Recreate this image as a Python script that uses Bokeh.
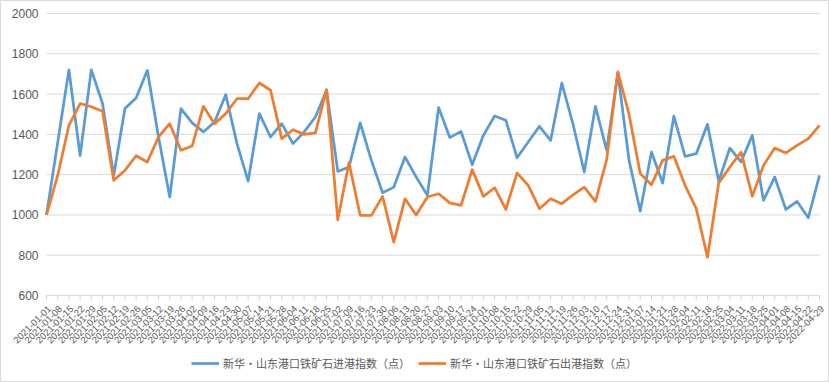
import math
import pandas as pd
from bokeh.plotting import figure
from bokeh.models import Legend, LegendItem, ColumnDataSource
from bokeh.core.properties import value
from bokeh.embed import file_html
from bokeh.resources import INLINE

dates = [d.strftime("%Y-%m-%d") for d in pd.date_range("2021-01-01", periods=70, freq="7D")]

inbound = [1000, 1360, 1720, 1295, 1720, 1553, 1196, 1528, 1581, 1718,
           1387, 1089, 1528, 1457, 1412, 1461, 1597, 1354, 1168, 1503,
           1387, 1453, 1354, 1412, 1486, 1619, 1216, 1238, 1457, 1271,
           1110, 1138, 1288, 1188, 1097, 1533, 1384, 1415, 1249, 1395,
           1491, 1470, 1284, 1362, 1440, 1370, 1655, 1450, 1213, 1539,
           1321, 1705, 1271, 1019, 1312, 1158, 1490, 1291, 1304, 1450,
           1167, 1332, 1263, 1395, 1072, 1188, 1027, 1067, 986, 1196]

outbound = [1000, 1196, 1445, 1553, 1537, 1515, 1172, 1221, 1294, 1263,
            1387, 1453, 1321, 1342, 1539, 1453, 1503, 1577, 1577, 1655,
            1619, 1379, 1423, 1400, 1407, 1622, 976, 1259, 998, 998,
            1092, 865, 1080, 1000, 1089, 1105, 1060, 1047, 1225, 1092,
            1135, 1027, 1208, 1147, 1031, 1080, 1056, 1100, 1138, 1067,
            1274, 1710, 1500, 1205, 1150, 1271, 1291, 1147, 1031, 790,
            1158, 1238, 1312, 1092, 1246, 1332, 1308, 1345, 1379, 1445]

y_ticks = [600, 800, 1000, 1200, 1400, 1600, 1800, 2000]
y_tick_labels = [str(v) for v in y_ticks]
series_names = ["新华·山东港口铁矿石进港指数（点）", "新华·山东港口铁矿石出港指数（点）"]

# layout (pixels) -- the whole figure is the plotting frame
W, H = 829, 382
PLOT_L, PLOT_R, PLOT_T, PLOT_B = 46, 819, 13, 295
n = len(dates)
y_min, y_max = y_ticks[0], y_ticks[-1]
upp_y = (y_max - y_min) / (PLOT_B - PLOT_T)
upp_x = (n - 1) / (PLOT_R - PLOT_L)
x_range = (0 - PLOT_L * upp_x, (n - 1) + (W - PLOT_R) * upp_x)
y_range = (y_min - (H - PLOT_B) * upp_y, y_max + PLOT_T * upp_y)

idx = list(range(n))
src = ColumnDataSource(dict(x=idx, inbound=inbound, outbound=outbound,
                            base=[y_min] * n, label=dates))
ysrc = ColumnDataSource(dict(y=y_ticks, label=y_tick_labels,
                             x0=[0] * len(y_ticks), x1=[n - 1] * len(y_ticks)))

p = figure(width=W, height=H, x_range=x_range, y_range=y_range,
           output_backend="svg", toolbar_location=None,
           x_axis_location=None, y_axis_location=None,
           min_border=0, min_border_left=0, min_border_right=0,
           min_border_top=0, min_border_bottom=0)
p.grid.visible = False
p.outline_line_color = "#d9d9d9"
p.outline_line_width = 1
p.background_fill_color = "white"
p.border_fill_color = "white"

# value gridlines and labels
p.segment(x0="x0", y0="y", x1="x1", y1="y", source=ysrc, line_color="#d9d9d9", line_width=1)
p.text(x="x0", y="y", text="label", source=ysrc, x_offset=-8,
       text_align="right", text_baseline="middle",
       text_font=value("Liberation Sans"), text_font_size="12px", text_color="#595959")

# category axis: ticks and rotated labels
p.ray(x="x", y="base", length=5, length_units="screen", angle=-math.pi / 2,
      source=src, line_color="#d9d9d9", line_width=1)
p.text(x="x", y="base", text="label", source=src, angle=math.pi / 4,
       text_align="right", text_baseline="middle", x_offset=3, y_offset=12,
       text_font=value("Liberation Sans"), text_font_size="9.5px", text_color="#595959")

r1 = p.line("x", "inbound", source=src, line_color="#5B9BD5", line_width=2.75, line_join="round")
r2 = p.line("x", "outbound", source=src, line_color="#ED7D31", line_width=2.75, line_join="round")

legend = Legend(items=[LegendItem(label=series_names[0], renderers=[r1]),
                       LegendItem(label=series_names[1], renderers=[r2])],
                orientation="horizontal", location=(191, 9))
legend.label_text_font = "Noto Sans CJK SC"
legend.label_text_font_size = "11px"
legend.label_text_color = "#595959"
legend.glyph_width = 28
legend.label_standoff = 4
legend.spacing = 8
legend.border_line_color = None
legend.background_fill_alpha = 0
legend.padding = 2
legend.margin = 0
p.add_layout(legend)

open("out.html", "w").write(file_html(p, INLINE))
